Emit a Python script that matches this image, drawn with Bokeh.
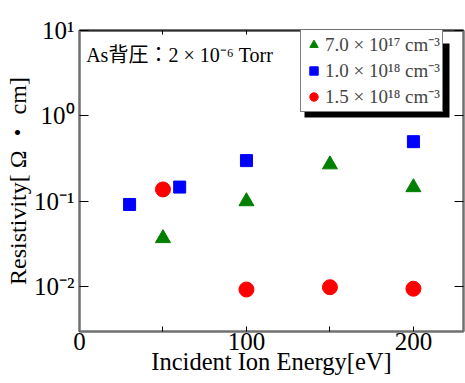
from bokeh.plotting import figure
from bokeh.models import (FixedTicker, LogAxis, LinearAxis, Legend, LegendItem,
                          Label, BoxAnnotation, Range1d)
from bokeh.embed import file_html
from bokeh.resources import INLINE

# data
energy_a = [50, 100, 150, 200]
rho_a = [0.037, 0.10, 0.27, 0.146]          # 7.0e17 cm^-3
energy_b = [30, 60, 100, 200]
rho_b = [0.092, 0.147, 0.30, 0.50]          # 1.0e18 cm^-3
energy_c = [50, 100, 150, 200]
rho_c = [0.138, 0.0093, 0.0099, 0.0095]     # 1.5e18 cm^-3

labels = ["7.0 × 10¹⁷ cm⁻³", "1.0 × 10¹⁸ cm⁻³", "1.5 × 10¹⁸ cm⁻³"]
x_ticks = [0, 100, 200]
x_minor = [50, 150]
y_ticks = [0.01, 0.1, 1, 10]
y_tick_labels = {0.01: "10⁻²", 0.1: "10⁻¹", 1: "10⁰", 10: "10¹"}
x_title = "Incident Ion Energy[eV]"
y_title = "Resistivity[ Ω ・ cm]"
note = "As背圧：2 × 10⁻⁶ Torr"

SERIF = "'Liberation Serif', 'Noto Sans CJK JP', serif"
SERIF_ONLY = "'Liberation Serif', serif"
AX = "#707070"

p = figure(width=465, height=383, y_axis_type="log",
           x_range=Range1d(0, 230), y_range=Range1d(0.003, 10),
           output_backend="svg", toolbar_location=None,
           min_border_left=79, min_border_right=2, min_border_top=30,
           min_border_bottom=52)
p.grid.visible = False
p.background_fill_color = "white"
p.outline_line_color = AX
p.outline_line_width = 2

ra = p.scatter(energy_a, rho_a, marker="triangle", size=15, color="#008000")
rb = p.scatter(energy_b, rho_b, marker="square", size=12, color="#0000FF")
rc = p.scatter(energy_c, rho_c, marker="circle", size=15, color="#FF0000")

xt = FixedTicker(ticks=x_ticks, minor_ticks=x_minor)
yt = FixedTicker(ticks=y_ticks, minor_ticks=[])

def style(ax, show):
    ax.axis_line_color = AX
    ax.axis_line_width = 2
    ax.major_tick_line_color = "black"
    ax.minor_tick_line_color = "black"
    ax.major_tick_out = 0
    ax.minor_tick_out = 0
    ax.major_label_text_font = SERIF
    ax.major_label_text_color = "black"
    ax.axis_label_text_font = SERIF
    ax.axis_label_text_font_style = "normal"
    ax.axis_label_text_color = "black"
    if not show:
        ax.major_label_text_font_size = "1px"
        ax.major_label_text_alpha = 0
        ax.major_label_standoff = 0

xa = p.xaxis[0]
xa.ticker = xt
style(xa, True)
xa.major_tick_in = 5
xa.minor_tick_in = 5
xa.major_label_text_font_size = "25px"
xa.major_label_standoff = 1
xa.axis_label = x_title
xa.axis_label_text_font_size = "24.5px"
xa.axis_label_standoff = -5

ya = p.yaxis[0]
ya.ticker = yt
style(ya, True)
ya.major_tick_in = 9
ya.major_label_overrides = y_tick_labels
ya.major_label_text_font_size = "25px"
ya.major_label_standoff = 5
ya.axis_label = y_title
ya.axis_label_text_font_size = "24px"
ya.axis_label_standoff = 0

top = LinearAxis(ticker=xt)
style(top, False)
top.major_tick_in = 4
top.minor_tick_in = 4
top.axis_line_color = "#303030"
p.add_layout(top, "above")

right = LogAxis(ticker=yt)
style(right, False)
right.major_tick_in = 9
p.add_layout(right, "right")

# legend shadow
shadow = BoxAnnotation(left=225, right=370, top=288, bottom=214,
                       left_units="screen", right_units="screen",
                       top_units="screen", bottom_units="screen",
                       fill_color="black", fill_alpha=1, line_color=None,
                       level="overlay")
p.add_layout(shadow)

legend = Legend(items=[LegendItem(label=labels[0], renderers=[ra]),
                       LegendItem(label=labels[1], renderers=[rb]),
                       LegendItem(label=labels[2], renderers=[rc])],
                location=(221, 219), orientation="vertical",
                label_text_font=SERIF_ONLY, label_text_font_size="19px",
                label_standoff=1, glyph_width=21, glyph_height=23,
                label_height=23, spacing=0, padding=2, margin=0,
                border_line_color="black", border_line_width=1.5,
                background_fill_color="white", background_fill_alpha=1)
p.add_layout(legend)

p.add_layout(Label(x=4, y=5.2, text=note, text_font=SERIF,
                   text_font_size="20px", text_baseline="middle",
                   text_color="black"))

open("out.html", "w").write(file_html(p, INLINE))
